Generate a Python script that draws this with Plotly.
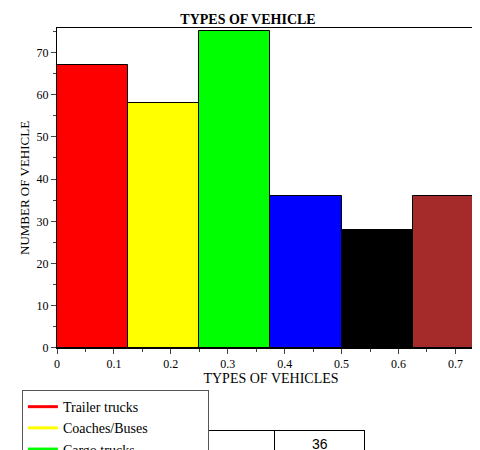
import plotly.graph_objects as go

vehicles = ["Trailer trucks", "Coaches/Buses", "Cargo trucks", "Dumper trucks", "Mini Bus", "Taxi"]
counts = [67, 58, 75, 36, 28, 36]
colors = ["#ff0000", "#ffff00", "#00ff00", "#0000ff", "#000000", "#a52a2a"]
bin_width = 0.125
centers = [bin_width * (i + 0.5) for i in range(len(vehicles))]
table_row = ["Taxi", "36"]

serif = "Liberation Serif"
fig = go.Figure()
for name, c, v, col in zip(vehicles, centers, counts, colors):
    fig.add_trace(go.Bar(x=[c], y=[v], width=bin_width, marker=dict(color=col, line=dict(color="black", width=1)),
                         showlegend=False, name=name))
for name, col in zip(vehicles, colors):
    fig.add_trace(go.Scatter(x=[None], y=[None], mode="lines", line=dict(color=col, width=3), name=name))

fig.add_trace(go.Table(
    domain=dict(x=[0.119, 0.72], y=[0, 0.063]),
    columnwidth=[1.85, 1],
    header=dict(values=table_row, height=27, fill_color="white", line_color="black",
                font=dict(family="Liberation Sans", size=14, color="black"), align="center"),
    cells=dict(values=[[], []]),
))

fig.update_layout(
    width=480, height=450, margin=dict(l=49, r=3, t=20, b=0, autoexpand=False),
    plot_bgcolor="white", paper_bgcolor="white", bargap=0,
    font=dict(family=serif, color="black", size=12),
    title=dict(text="<b>TYPES OF VEHICLE</b>", x=0.5, y=0.975, xanchor="center", yanchor="middle",
               font=dict(family=serif, size=14)),
    legend=dict(orientation="h", x=-0.082, y=0.158, xanchor="left", yanchor="top",
                entrywidth=140, bordercolor="#555", borderwidth=1,
                font=dict(family=serif, size=14), tracegroupgap=0, itemwidth=30),
    xaxis=dict(range=[0, 0.752], dtick=0.1, ticks="outside", ticklen=5, showgrid=False, zeroline=False,
               showline=True, linecolor="black", mirror=True,
               minor=dict(dtick=0.05, ticks="outside", ticklen=3),
               title=dict(text="TYPES OF VEHICLES", standoff=2, font=dict(family=serif, size=14))),
    yaxis=dict(domain=[0.256, 1], range=[0, 75.8], dtick=10, ticks="outside", ticklen=5, showgrid=False,
               zeroline=False, showline=True, linecolor="black", mirror=True,
               minor=dict(dtick=5, ticks="outside", ticklen=3),
               title=dict(text="NUMBER OF VEHICLE", standoff=4, font=dict(family=serif, size=13))),
)
fig.write_html("out.html")
